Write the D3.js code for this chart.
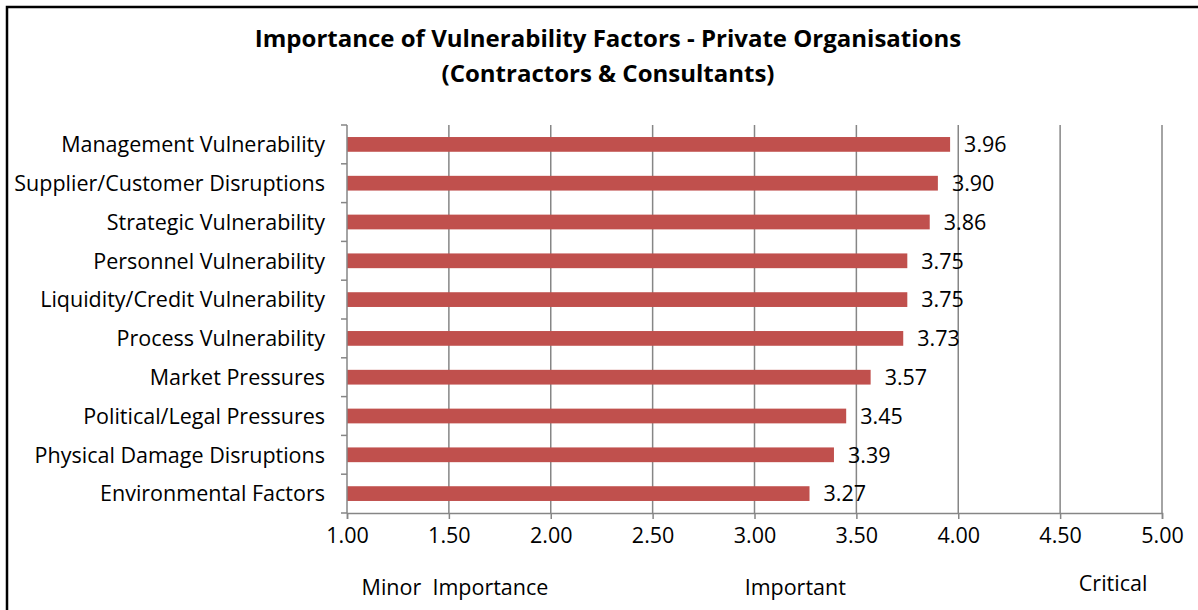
<!DOCTYPE html>
<html>
<head>
<meta charset="utf-8">
<script src="https://cdn.jsdelivr.net/npm/d3@7"></script>
<style>
  body { margin: 0; background: #fff; }
  text { font-family: "Open Sans", "Noto Sans", sans-serif; fill: #000; }
</style>
</head>
<body>
<div id="chart"></div>
<script>
// data
var factors = [
    "Management Vulnerability",
    "Supplier/Customer Disruptions",
    "Strategic Vulnerability",
    "Personnel Vulnerability",
    "Liquidity/Credit Vulnerability",
    "Process Vulnerability",
    "Market Pressures",
    "Political/Legal Pressures",
    "Physical Damage Disruptions",
    "Environmental Factors"
]
var scores = [3.96, 3.90, 3.86, 3.75, 3.75, 3.73, 3.57, 3.45, 3.39, 3.27]
var tickValues = [1.0, 1.5, 2.0, 2.5, 3.0, 3.5, 4.0, 4.5, 5.0]
var scaleLabels = [
    { text: "Minor  Importance", at: 1.53, dy: 0 },
    { text: "Important", at: 3.2, dy: 0 },
    { text: "Critical", at: 4.76, dy: -4 }
]
var titleLines = ["Importance of Vulnerability Factors - Private Organisations", "(Contractors & Consultants)"]

var W = 1198, H = 610
var margin = { top: 125, right: 36, bottom: 97, left: 347 }
var width = W - margin.left - margin.right,
    height = H - margin.top - margin.bottom
var fs = "21.5px"

var svg = d3.select("#chart").append("svg")
    .attr("width", W)
    .attr("height", H)

// frame (only left and top edges show in the crop)
svg.append("path")
    .attr("d", "M7,610 L7,7 L1198,7")
    .attr("fill", "none")
    .attr("stroke", "#000")
    .attr("stroke-width", 2.5)

svg.selectAll(".title")
    .data(titleLines)
    .enter()
    .append("text")
    .attr("class", "title")
    .attr("x", 608)
    .attr("y", function (d, i) { return 47 + i * 35 })
    .attr("text-anchor", "middle")
    .style("font-weight", "bold")
    .style("font-size", "24px")
    .text(function (d) { return d })

var g = svg.append("g")
    .attr("transform", "translate(" + margin.left + "," + margin.top + ")")

var x = d3.scaleLinear()
    .domain([1, 5])
    .range([0, width])

var y = d3.scaleBand()
    .domain(factors)
    .range([0, height])
    .paddingInner(0.62)
    .paddingOuter(0.31)

var band = d3.scaleBand().domain(factors).range([0, height])

// vertical gridlines
g.selectAll(".grid")
    .data(tickValues.slice(1))
    .enter()
    .append("line")
    .attr("class", "grid")
    .attr("x1", function (d) { return x(d) })
    .attr("x2", function (d) { return x(d) })
    .attr("y1", 0)
    .attr("y2", height)
    .attr("stroke", "#868686")
    .attr("stroke-width", 1.5)

// bars
g.selectAll(".bar")
    .data(scores)
    .enter()
    .append("rect")
    .attr("class", "bar")
    .attr("x", x(1))
    .attr("y", function (d, i) { return y(factors[i]) })
    .attr("width", function (d) { return x(d) - x(1) })
    .attr("height", y.bandwidth())
    .attr("fill", "#C0504D")

// value labels
g.selectAll(".val")
    .data(scores)
    .enter()
    .append("text")
    .attr("class", "val")
    .attr("x", function (d) { return x(d) + 14 })
    .attr("y", function (d, i) { return y(factors[i]) + y.bandwidth() / 2 })
    .attr("dy", "0.36em")
    .style("font-size", fs)
    .text(function (d) { return d.toFixed(2) })

// x axis
var xAxis = d3.axisBottom(x)
    .tickValues(tickValues)
    .tickFormat(d3.format(".2f"))
    .tickSize(6)
    .tickPadding(9)

var gx = g.append("g")
    .attr("transform", "translate(0," + height + ")")
    .call(xAxis)
gx.select(".domain").attr("stroke", "#868686").attr("stroke-width", 1.5)
gx.selectAll(".tick line").attr("stroke", "#868686").attr("stroke-width", 1.5)
gx.selectAll(".tick text")
    .style("font-size", fs)
    .style("font-family", "'Open Sans', 'Noto Sans', sans-serif")
    .attr("fill", "#000")

// y axis: ticks on category boundaries
var gy = g.append("g")
gy.append("line")
    .attr("x1", 0).attr("x2", 0)
    .attr("y1", 0).attr("y2", height)
    .attr("stroke", "#868686")
    .attr("stroke-width", 1.5)
gy.selectAll(".ytick")
    .data(factors.concat(["end"]))
    .enter()
    .append("line")
    .attr("class", "ytick")
    .attr("x1", -6).attr("x2", 0)
    .attr("y1", function (d, i) { return i < factors.length ? band(d) : height })
    .attr("y2", function (d, i) { return i < factors.length ? band(d) : height })
    .attr("stroke", "#868686")
    .attr("stroke-width", 1.5)
gy.selectAll(".ylab")
    .data(factors)
    .enter()
    .append("text")
    .attr("class", "ylab")
    .attr("x", -22)
    .attr("y", function (d) { return y(d) + y.bandwidth() / 2 })
    .attr("dy", "0.36em")
    .attr("text-anchor", "end")
    .style("font-size", fs)
    .text(function (d) { return d })

// importance scale captions
g.selectAll(".scale")
    .data(scaleLabels)
    .enter()
    .append("text")
    .attr("class", "scale")
    .attr("x", function (d) { return x(d.at) })
    .attr("y", function (d) { return height + 82 + d.dy })
    .attr("text-anchor", "middle")
    .style("font-size", fs)
    .style("white-space", "pre")
    .text(function (d) { return d.text })
</script>
</body>
</html>
